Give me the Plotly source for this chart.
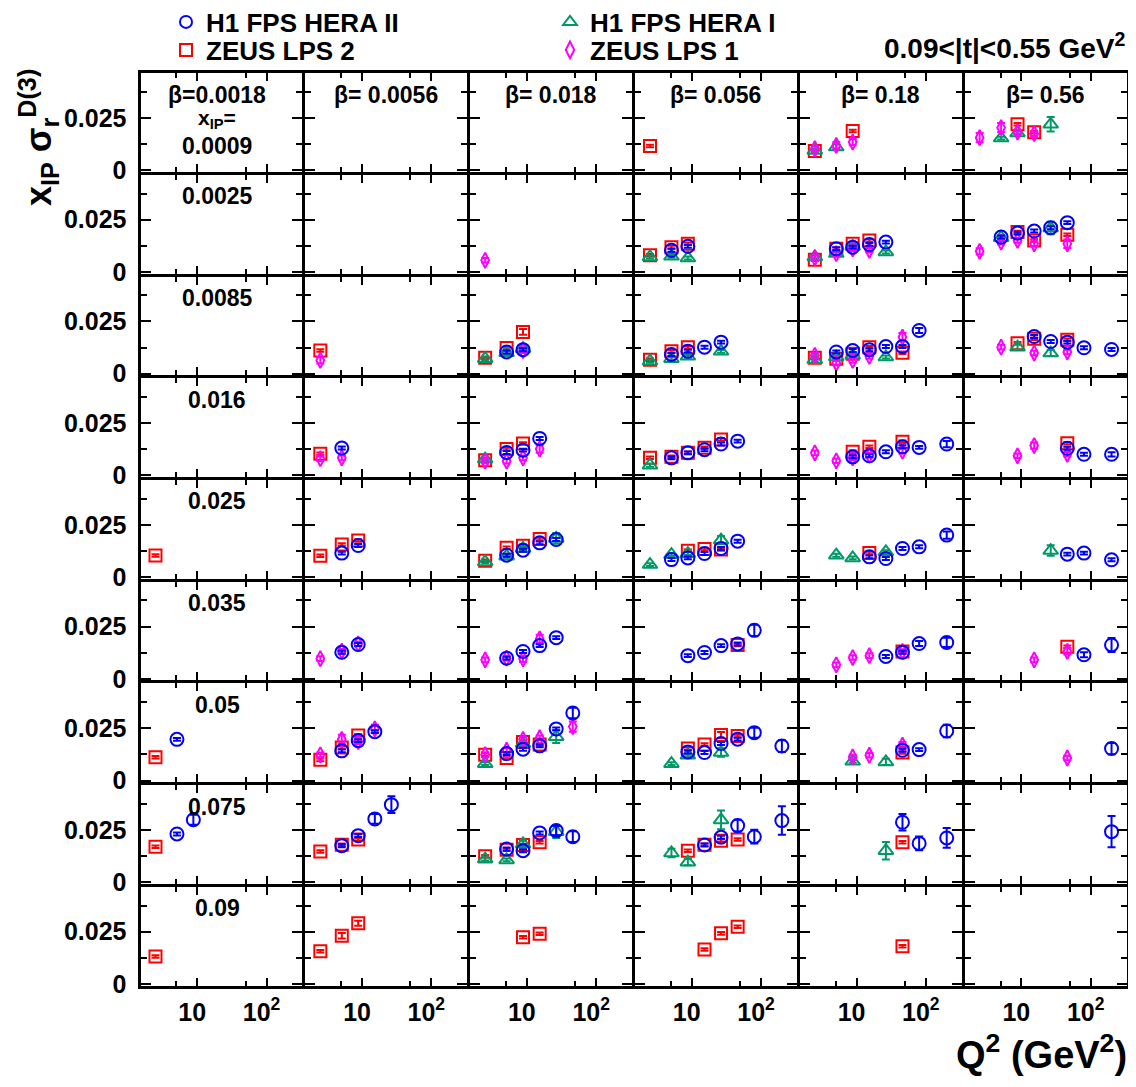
import plotly.graph_objects as go

# ---------------- data ----------------
Q2 = [2.5, 5.1, 8.8, 15.3, 26.5, 46, 80, 200]          # GeV^2 grid
BETA = ["0.0018", "0.0056", "0.018", "0.056", "0.18", "0.56"]
XIP = ["0.0009", "0.0025", "0.0085", "0.016", "0.025", "0.035", "0.05", "0.075", "0.09"]
X_TICKS = [10, 100]
X_TICKTEXT = ["10", "10<sup>2</sup>"]
X_MINOR = [5, 50]
Y_TICKS = [0, 0.025]
Y_TICKTEXT = ["0", "0.025"]
Y_MINOR = [0.0125, 0.0375]

# records: (xIP row, beta column, Q2 index, x_IP*sigma_r^D(3) [, error])
H1_HERA2 = [
    (1, 3, 1, 0.0104), (1, 3, 2, 0.0123),
    (1, 4, 1, 0.0111), (1, 4, 2, 0.0119), (1, 4, 3, 0.0132), (1, 4, 4, 0.0143),
    (1, 5, 1, 0.0167), (1, 5, 2, 0.0186), (1, 5, 3, 0.0196), (1, 5, 4, 0.0212), (1, 5, 5, 0.0236),
    (2, 2, 1, 0.0104), (2, 2, 2, 0.0115),
    (2, 3, 1, 0.0092), (2, 3, 2, 0.0108), (2, 3, 3, 0.0127), (2, 3, 4, 0.0151),
    (2, 4, 1, 0.0104), (2, 4, 2, 0.0111), (2, 4, 3, 0.0115), (2, 4, 4, 0.0130), (2, 4, 5, 0.0130), (2, 4, 6, 0.0207, 0.0012),
    (2, 5, 3, 0.0178), (2, 5, 4, 0.0154), (2, 5, 5, 0.0151), (2, 5, 6, 0.0124), (2, 5, 7, 0.0116),
    (3, 1, 1, 0.0131),
    (3, 2, 1, 0.0110), (3, 2, 2, 0.0121), (3, 2, 3, 0.0177),
    (3, 3, 1, 0.0084), (3, 3, 2, 0.0108), (3, 3, 3, 0.0123), (3, 3, 4, 0.0150), (3, 3, 5, 0.0164),
    (3, 4, 2, 0.0089), (3, 4, 3, 0.0094), (3, 4, 4, 0.0113), (3, 4, 5, 0.0137), (3, 4, 6, 0.0134), (3, 4, 7, 0.0150, 0.0015),
    (3, 5, 5, 0.0130), (3, 5, 6, 0.0101), (3, 5, 7, 0.0101, 0.0010),
    (4, 1, 1, 0.0115), (4, 1, 2, 0.0151),
    (4, 2, 1, 0.0105), (4, 2, 2, 0.0129), (4, 2, 3, 0.0164), (4, 2, 4, 0.0180),
    (4, 3, 1, 0.0084), (4, 3, 2, 0.0092), (4, 3, 3, 0.0113), (4, 3, 4, 0.0137), (4, 3, 5, 0.0172),
    (4, 4, 3, 0.0097), (4, 4, 4, 0.0089), (4, 4, 5, 0.0137), (4, 4, 6, 0.0145), (4, 4, 7, 0.0201, 0.0017),
    (4, 5, 5, 0.0110), (4, 5, 6, 0.0115), (4, 5, 7, 0.0083),
    (5, 1, 1, 0.0127), (5, 1, 2, 0.0164),
    (5, 2, 1, 0.0099), (5, 2, 2, 0.0131), (5, 2, 3, 0.0159), (5, 2, 4, 0.0197),
    (5, 3, 2, 0.0111), (5, 3, 3, 0.0126), (5, 3, 4, 0.0159), (5, 3, 5, 0.0167), (5, 3, 6, 0.0232, 0.0027),
    (5, 4, 4, 0.0107), (5, 4, 5, 0.0127), (5, 4, 6, 0.0169, 0.0012), (5, 4, 7, 0.0174, 0.0022),
    (5, 5, 6, 0.0115, 0.0012), (5, 5, 7, 0.0162, 0.0033),
    (6, 0, 1, 0.0197),
    (6, 1, 1, 0.0142), (6, 1, 2, 0.0191), (6, 1, 3, 0.0234),
    (6, 2, 1, 0.0129), (6, 2, 2, 0.0150), (6, 2, 3, 0.0166), (6, 2, 4, 0.0247), (6, 2, 5, 0.0323, 0.0025),
    (6, 3, 2, 0.0137), (6, 3, 3, 0.0134), (6, 3, 4, 0.0177), (6, 3, 5, 0.0198), (6, 3, 6, 0.0229, 0.0024), (6, 3, 7, 0.0165, 0.0028),
    (6, 4, 5, 0.0145), (6, 4, 6, 0.0148), (6, 4, 7, 0.0237, 0.0030),
    (6, 5, 7, 0.0153, 0.0027),
    (7, 0, 1, 0.0231), (7, 0, 2, 0.0299, 0.0024),
    (7, 1, 1, 0.0175), (7, 1, 2, 0.0223), (7, 1, 3, 0.0303, 0.0023), (7, 1, 4, 0.0371, 0.0040),
    (7, 2, 1, 0.0159), (7, 2, 2, 0.0151), (7, 2, 3, 0.0236), (7, 2, 4, 0.0247, 0.0022), (7, 2, 5, 0.0218, 0.0026),
    (7, 3, 3, 0.0178), (7, 3, 4, 0.0215), (7, 3, 5, 0.0271, 0.0028), (7, 3, 6, 0.0218, 0.0033), (7, 3, 7, 0.0295, 0.0068),
    (7, 4, 5, 0.0287, 0.0039), (7, 4, 6, 0.0186, 0.0033), (7, 4, 7, 0.0212, 0.0047),
    (7, 5, 7, 0.0242, 0.0075),
]

H1_HERA1 = [
    (0, 4, 0, 0.0095), (0, 4, 1, 0.0111, 0.0012),
    (0, 5, 1, 0.0154), (0, 5, 2, 0.0178), (0, 5, 4, 0.0220, 0.0035),
    (1, 3, 0, 0.0072), (1, 3, 1, 0.0075), (1, 3, 2, 0.0067),
    (1, 4, 0, 0.0072), (1, 4, 1, 0.0088), (1, 4, 2, 0.0123), (1, 4, 4, 0.0096),
    (1, 5, 1, 0.0164), (1, 5, 4, 0.0210, 0.0030),
    (2, 2, 0, 0.0072), (2, 2, 1, 0.0100), (2, 2, 2, 0.0120),
    (2, 3, 0, 0.0060), (2, 3, 1, 0.0072), (2, 3, 2, 0.0083), (2, 3, 4, 0.0107),
    (2, 4, 0, 0.0067), (2, 4, 1, 0.0080), (2, 4, 2, 0.0088), (2, 4, 4, 0.0080),
    (2, 5, 2, 0.0127, 0.0014), (2, 5, 4, 0.0099, 0.0014),
    (3, 2, 0, 0.0078),
    (3, 3, 0, 0.0049),
    (4, 2, 0, 0.0073), (4, 2, 1, 0.0100), (4, 2, 2, 0.0137), (4, 2, 4, 0.0185, 0.0025),
    (4, 3, 0, 0.0060), (4, 3, 1, 0.0108), (4, 3, 2, 0.0113), (4, 3, 4, 0.0177, 0.0020),
    (4, 4, 1, 0.0105), (4, 4, 2, 0.0092), (4, 4, 4, 0.0121),
    (4, 5, 4, 0.0127, 0.0025),
    (6, 2, 0, 0.0081), (6, 2, 2, 0.0177), (6, 2, 4, 0.0210, 0.0030),
    (6, 3, 1, 0.0081), (6, 3, 2, 0.0121), (6, 3, 4, 0.0134, 0.0020),
    (6, 4, 2, 0.0092), (6, 4, 4, 0.0089, 0.0015),
    (7, 2, 0, 0.0111), (7, 2, 1, 0.0107), (7, 2, 2, 0.0183, 0.0015), (7, 2, 4, 0.0242, 0.0030),
    (7, 3, 1, 0.0140, 0.0020), (7, 3, 2, 0.0096, 0.0015), (7, 3, 4, 0.0298, 0.0045),
    (7, 4, 4, 0.0151, 0.0042),
]

ZEUS_LPS2 = [
    (0, 3, 0, 0.0116),
    (0, 4, 0, 0.0092), (0, 4, 2, 0.0188),
    (0, 5, 2, 0.0220), (0, 5, 3, 0.0182),
    (1, 3, 0, 0.0080), (1, 3, 1, 0.0119), (1, 3, 2, 0.0135),
    (1, 4, 0, 0.0059), (1, 4, 1, 0.0111), (1, 4, 2, 0.0135), (1, 4, 3, 0.0151),
    (1, 5, 2, 0.0191), (1, 5, 3, 0.0151), (1, 5, 5, 0.0178),
    (2, 1, 0, 0.0111),
    (2, 2, 0, 0.0076), (2, 2, 1, 0.0123), (2, 2, 2, 0.0200, 0.0014),
    (2, 3, 0, 0.0067), (2, 3, 1, 0.0108), (2, 3, 2, 0.0127),
    (2, 4, 0, 0.0076), (2, 4, 1, 0.0072), (2, 4, 2, 0.0096), (2, 4, 3, 0.0127), (2, 4, 5, 0.0100),
    (2, 5, 2, 0.0146), (2, 5, 3, 0.0167), (2, 5, 5, 0.0162),
    (3, 1, 0, 0.0104),
    (3, 2, 0, 0.0073), (3, 2, 1, 0.0126), (3, 2, 2, 0.0153),
    (3, 3, 0, 0.0084), (3, 3, 1, 0.0089), (3, 3, 2, 0.0108), (3, 3, 3, 0.0132), (3, 3, 4, 0.0172),
    (3, 4, 2, 0.0113), (3, 4, 3, 0.0137), (3, 4, 5, 0.0161),
    (3, 5, 5, 0.0154),
    (4, 0, 0, 0.0104),
    (4, 1, 0, 0.0102), (4, 1, 1, 0.0156), (4, 1, 2, 0.0175),
    (4, 2, 0, 0.0078), (4, 2, 1, 0.0140), (4, 2, 2, 0.0150), (4, 2, 3, 0.0182),
    (4, 3, 2, 0.0126), (4, 3, 3, 0.0134), (4, 3, 4, 0.0132),
    (4, 4, 3, 0.0116),
    (5, 3, 5, 0.0162),
    (5, 4, 5, 0.0131),
    (5, 5, 5, 0.0154),
    (6, 0, 0, 0.0111),
    (6, 1, 0, 0.0099), (6, 1, 1, 0.0158), (6, 1, 2, 0.0215),
    (6, 2, 0, 0.0124), (6, 2, 1, 0.0108), (6, 2, 2, 0.0185), (6, 2, 3, 0.0173),
    (6, 3, 2, 0.0153), (6, 3, 3, 0.0173), (6, 3, 4, 0.0218, 0.0014), (6, 3, 5, 0.0213),
    (6, 4, 5, 0.0134),
    (7, 0, 0, 0.0170),
    (7, 1, 0, 0.0147), (7, 1, 1, 0.0180), (7, 1, 2, 0.0204),
    (7, 2, 0, 0.0124), (7, 2, 1, 0.0156), (7, 2, 2, 0.0178), (7, 2, 3, 0.0191),
    (7, 3, 2, 0.0151), (7, 3, 3, 0.0180), (7, 3, 4, 0.0199), (7, 3, 5, 0.0204),
    (7, 4, 5, 0.0191),
    (8, 0, 0, 0.0132),
    (8, 1, 0, 0.0156), (8, 1, 1, 0.0231, 0.0013), (8, 1, 2, 0.0290, 0.0012),
    (8, 2, 2, 0.0224), (8, 2, 3, 0.0240),
    (8, 3, 3, 0.0165), (8, 3, 4, 0.0242), (8, 3, 5, 0.0274),
    (8, 4, 5, 0.0181),
]

ZEUS_LPS1 = [
    (0, 4, 0, 0.0103), (0, 4, 1, 0.0119, 0.0015), (0, 4, 2, 0.0135, 0.0015),
    (0, 5, 0, 0.0156, 0.0022), (0, 5, 1, 0.0204, 0.0022), (0, 5, 2, 0.0183), (0, 5, 3, 0.0175),
    (1, 2, 0, 0.0056),
    (1, 4, 0, 0.0068), (1, 4, 1, 0.0088), (1, 4, 2, 0.0111), (1, 4, 3, 0.0104),
    (1, 5, 0, 0.0099, 0.0015), (1, 5, 1, 0.0143), (1, 5, 2, 0.0151), (1, 5, 3, 0.0135), (1, 5, 5, 0.0135, 0.0020),
    (2, 1, 0, 0.0064, 0.0015),
    (2, 2, 2, 0.0110),
    (2, 4, 0, 0.0088), (2, 4, 1, 0.0051), (2, 4, 2, 0.0064), (2, 4, 3, 0.0083), (2, 4, 5, 0.0175, 0.0020),
    (2, 5, 1, 0.0127), (2, 5, 3, 0.0099), (2, 5, 5, 0.0104),
    (3, 1, 0, 0.0080), (3, 1, 1, 0.0084),
    (3, 2, 0, 0.0068), (3, 2, 1, 0.0068), (3, 2, 2, 0.0084), (3, 2, 3, 0.0126, 0.0018),
    (3, 4, 0, 0.0108), (3, 4, 1, 0.0070), (3, 4, 2, 0.0084), (3, 4, 3, 0.0097), (3, 4, 5, 0.0116),
    (3, 5, 2, 0.0094), (3, 5, 3, 0.0143, 0.0015), (3, 5, 5, 0.0101),
    (5, 1, 0, 0.0097), (5, 1, 1, 0.0132), (5, 1, 2, 0.0167),
    (5, 2, 0, 0.0091), (5, 2, 1, 0.0099), (5, 2, 2, 0.0096, 0.0015), (5, 2, 3, 0.0191, 0.0020),
    (5, 4, 1, 0.0067), (5, 4, 2, 0.0102), (5, 4, 3, 0.0111), (5, 4, 5, 0.0131),
    (5, 5, 3, 0.0091), (5, 5, 5, 0.0131, 0.0015),
    (6, 1, 0, 0.0123), (6, 1, 1, 0.0197, 0.0022), (6, 1, 2, 0.0186), (6, 1, 3, 0.0247, 0.0020),
    (6, 2, 0, 0.0124), (6, 2, 1, 0.0145), (6, 2, 2, 0.0197), (6, 2, 3, 0.0205), (6, 2, 5, 0.0258, 0.0025),
    (6, 4, 2, 0.0113), (6, 4, 3, 0.0121), (6, 4, 5, 0.0169, 0.0015),
    (6, 5, 5, 0.0108),
]

# ---------------- styling / layout ----------------
PAGE_W, PAGE_H = 1136, 1087
OFF = 8                                  # default body margin of the page
W, H = PAGE_W - 2 * OFF, PAGE_H - 2 * OFF
NROW, NCOL = 9, 6
PX_L, PX_R = 139.0, 1128.0               # page pixels of the panel grid
PX_T, PX_B = 71.6, 987.0
CW = (PX_R - PX_L) / NCOL
RH = (PX_B - PX_T) / NROW
LW = 3                                   # frame line width
PX_PER_DEC = 69.3                        # x scale
PX_PER_Y = 52.3 / 0.025                  # y scale
LOG_LEFT = 0.16
FONT = "Liberation Sans, Arial, Helvetica, sans-serif"
BLACK = "black"

SERIES = [  # drawing order
    dict(name="ZEUS LPS 2", data=ZEUS_LPS2, color="#FF0000", symbol="square-open", size=12,
         err=0.0006, legend="legend2"),
    dict(name="H1 FPS HERA I", data=H1_HERA1, color="#009966", symbol="triangle-up-open", size=13,
         err=0.0007, legend="legend3"),
    dict(name="ZEUS LPS 1", data=ZEUS_LPS1, color="#FF00FF", symbol="diamond-tall-open", size=11,
         err=0.0011, legend="legend4"),
    dict(name="H1 FPS HERA II", data=H1_HERA2, color="#0000FF", symbol="circle-open", size=13,
         err=0.0007, legend="legend"),
]
LEGEND_POS = {"legend": (166, 22), "legend2": (166, 50), "legend3": (550, 22), "legend4": (550, 50)}


def px2x(px):
    return (px - OFF) / W


def px2y(py):
    return 1 - (py - OFF) / H


def axis_ids(r, c):
    k = r * NCOL + c + 1
    return ("x" if k == 1 else f"x{k}"), ("y" if k == 1 else f"y{k}"), k


fig = go.Figure()

# empty trace in each panel so every frame is drawn
for r in range(NROW):
    for c in range(NCOL):
        xa, ya, _ = axis_ids(r, c)
        fig.add_trace(go.Scatter(x=[], y=[], mode="markers", showlegend=False,
                                 hoverinfo="skip", xaxis=xa, yaxis=ya))

for s in SERIES:
    first = True
    for r in range(NROW):
        for c in range(NCOL):
            recs = [d for d in s["data"] if d[0] == r and d[1] == c]
            if not recs:
                continue
            xa, ya, _ = axis_ids(r, c)
            fig.add_trace(go.Scatter(
                x=[Q2[d[2]] for d in recs],
                y=[d[3] for d in recs],
                error_y=dict(type="data", array=[d[4] if len(d) > 4 else s["err"] for d in recs],
                             color=s["color"], thickness=2, width=4, visible=True),
                mode="markers",
                marker=dict(symbol=s["symbol"], size=s["size"], color=s["color"],
                            line=dict(width=2, color=s["color"])),
                name=s["name"], legendgroup=s["name"], showlegend=first,
                legend=s["legend"], xaxis=xa, yaxis=ya, hoverinfo="x+y",
            ))
            first = False

layout = dict(
    width=W, height=H, margin=dict(l=0, r=0, t=0, b=0, autoexpand=False),
    paper_bgcolor="white", plot_bgcolor="white",
    font=dict(family=FONT, color=BLACK, size=20),
    showlegend=True,
)
for lg, (lx, ly) in LEGEND_POS.items():
    layout[lg] = dict(x=px2x(lx), y=px2y(ly), xanchor="left", yanchor="middle",
                      font=dict(family=FONT, size=26, color=BLACK, weight="bold"),
                      bgcolor="rgba(0,0,0,0)", itemsizing="constant", borderwidth=0)

annotations = []
half = LW / 2
for r in range(NROW):
    for c in range(NCOL):
        xa, ya, k = axis_ids(r, c)
        xl = PX_L + c * CW
        yt = PX_T + r * RH
        xname = "xaxis" if k == 1 else f"xaxis{k}"
        yname = "yaxis" if k == 1 else f"yaxis{k}"
        lo = LOG_LEFT + half / PX_PER_DEC
        hi = lo + (CW - LW) / PX_PER_DEC
        layout[xname] = dict(
            type="log", range=[lo, hi], domain=[px2x(xl + half), px2x(xl + CW - half)], anchor=ya,
            showline=True, linewidth=LW, linecolor=BLACK, mirror="allticks",
            ticks="inside", ticklen=8, tickwidth=2, tickcolor=BLACK,
            tickmode="array", tickvals=X_TICKS, ticktext=X_TICKTEXT,
            showticklabels=(r == NROW - 1), ticklabelshift=-5, ticklabelstandoff=2,
            tickfont=dict(family=FONT, size=25, color=BLACK, weight="bold"),
            minor=dict(tickmode="array", tickvals=X_MINOR, ticks="inside", ticklen=5,
                       tickwidth=2, tickcolor=BLACK, showgrid=False),
            showgrid=False, zeroline=False, fixedrange=True,
        )
        y0 = -half / PX_PER_Y
        y1 = y0 + (RH - LW) / PX_PER_Y
        layout[yname] = dict(
            range=[y0, y1], domain=[px2y(yt + RH - half), px2y(yt + half)], anchor=xa,
            showline=True, linewidth=LW, linecolor=BLACK, mirror="allticks",
            ticks="inside", ticklen=10, tickwidth=2, tickcolor=BLACK,
            tickmode="array", tickvals=Y_TICKS, ticktext=Y_TICKTEXT,
            showticklabels=(c == 0), ticklabelstandoff=6,
            tickfont=dict(family=FONT, size=25, color=BLACK, weight="bold"),
            minor=dict(tickmode="array", tickvals=Y_MINOR, ticks="inside", ticklen=6,
                       tickwidth=2, tickcolor=BLACK, showgrid=False),
            showgrid=False, zeroline=False, fixedrange=True,
        )
        cx = xl + CW / 2
        common = dict(xref="paper", yref="paper", showarrow=False, xanchor="center", yanchor="middle",
                      font=dict(family=FONT, size=23, color=BLACK))
        if r == 0:
            txt = f"<b>β={BETA[c]}</b>" if c == 0 else f"<b>β= {BETA[c]}</b>"
            annotations.append(dict(x=px2x(cx - (4 if c == 0 else 0)), y=px2y(yt + 23), text=txt, **common))
        if c == 0:
            if r == 0:
                annotations.append(dict(x=px2x(cx - 4), y=px2y(yt + 47), text="<b>x<sub>IP</sub>=</b>",
                                        xref="paper", yref="paper", showarrow=False, xanchor="center",
                                        yanchor="middle", font=dict(family=FONT, size=21, color=BLACK)))
                annotations.append(dict(x=px2x(cx - 4), y=px2y(yt + 74), text=f"<b>{XIP[r]}</b>", **common))
            else:
                annotations.append(dict(x=px2x(cx - 4), y=px2y(yt + 23), text=f"<b>{XIP[r]}</b>", **common))

annotations.append(dict(x=px2x(38), y=px2y(138), text="<b>x<sub>IP</sub> σ<sub>r</sub><sup>D(3)</sup></b>",
                        textangle=-90, xanchor="center", yanchor="middle", xref="paper", yref="paper",
                        showarrow=False, font=dict(family=FONT, size=36, color=BLACK)))
annotations.append(dict(x=px2x(1129), y=px2y(1052), text="<b>Q<sup>2</sup> (GeV<sup>2</sup>)</b>",
                        xanchor="right", yanchor="middle", xref="paper", yref="paper", showarrow=False,
                        font=dict(family=FONT, size=38, color=BLACK)))
annotations.append(dict(x=px2x(1128), y=px2y(46), text="<b>0.09&lt;|t|&lt;0.55 GeV<sup>2</sup></b>",
                        xanchor="right", yanchor="middle", xref="paper", yref="paper", showarrow=False,
                        font=dict(family=FONT, size=28, color=BLACK)))
layout["annotations"] = annotations

fig.update_layout(**layout)
fig.write_html("out.html")
